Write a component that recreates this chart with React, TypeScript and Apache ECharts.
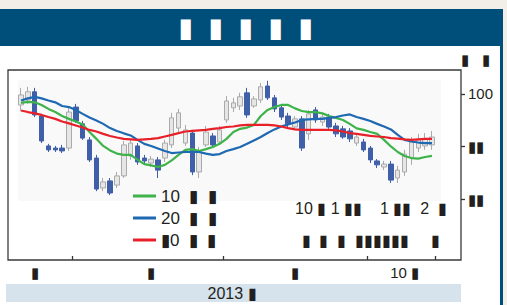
import React, { useEffect, useRef } from 'react';
import * as echarts from 'echarts';

const days = [
  '7/22','7/23','7/24','7/25','7/26','7/29','7/30','7/31',
  '8/1','8/2','8/5','8/6','8/7','8/8','8/9','8/12','8/13','8/14','8/15','8/16','8/19','8/20','8/21','8/22','8/23','8/26','8/27','8/28','8/29','8/30',
  '9/2','9/3','9/4','9/5','9/6','9/9','9/10','9/11','9/12','9/13','9/16','9/17','9/18','9/19','9/20','9/23','9/24','9/25','9/26','9/27','9/30',
  '10/1','10/2','10/3','10/4','10/7','10/8','10/9','10/10','10/11','10/14'
];

const opens = [
  99.58,99.77,100.08,99.16,98.02,97.94,97.94,97.94,99.50,98.86,98.25,97.56,96.42,96.69,96.53,96.88,
  97.64,98.02,97.56,97.37,97.49,97.56,98.06,98.70,98.13,98.51,97.03,98.06,98.40,98.17,
  99.01,99.47,99.54,100.04,99.54,99.77,100.30,99.85,99.47,99.16,98.74,99.05,98.48,99.39,98.93,99.12,
  98.78,98.67,98.59,98.13,98.17,97.94,97.45,97.22,97.33,96.80,97.03,97.56,97.94,98.02,98.06
];
const closes = [
  99.96,100.08,99.20,98.21,97.87,97.87,97.83,99.31,98.97,98.32,97.49,96.38,96.65,96.23,96.88,98.06,
  98.13,97.41,97.45,97.52,97.10,98.13,99.09,99.28,98.63,97.03,97.79,98.55,98.06,98.63,
  99.73,99.66,99.89,99.20,99.81,100.27,99.85,99.43,99.12,98.86,99.05,97.94,99.24,99.01,99.12,98.74,
  98.48,98.36,98.29,98.36,97.87,97.49,97.30,97.33,96.72,97.10,97.71,98.17,98.25,98.29,98.36
];
const lows = [
  99.35,99.62,99.12,98.13,97.79,97.79,97.75,97.83,98.90,98.25,97.41,96.30,96.30,96.15,96.42,96.80,
  97.49,97.30,97.33,97.22,96.80,97.41,97.94,98.51,98.02,96.91,96.80,97.98,97.94,98.10,
  98.90,99.31,99.39,99.09,99.47,99.66,99.77,99.31,99.01,98.74,98.63,97.83,98.25,98.90,98.78,98.67,
  98.36,98.29,98.17,98.02,97.79,97.37,97.18,97.10,96.61,96.61,96.88,97.30,97.79,97.87,97.87
];
const highs = [
  100.23,100.27,100.23,99.24,98.10,98.02,98.06,99.54,99.62,98.97,98.36,97.68,96.80,96.80,97.03,98.21,
  98.29,98.13,97.68,97.64,97.60,98.25,99.28,99.43,98.82,98.63,97.98,98.78,98.51,98.78,
  99.92,99.85,100.04,100.23,99.92,100.42,100.50,99.96,99.58,99.28,99.16,99.16,99.39,99.50,99.28,99.24,
  98.90,98.78,98.70,98.51,98.29,98.02,97.52,97.45,97.45,97.26,97.87,98.36,98.48,98.51,98.59
];

const ma10 = [
  99.66,99.70,99.68,99.58,99.43,99.31,99.16,99.05,98.95,98.84,98.55,98.29,98.02,97.85,97.73,97.68,
  97.68,97.50,97.33,97.28,97.22,97.30,97.47,97.68,97.87,97.90,97.83,97.90,97.98,98.10,
  98.29,98.55,98.67,98.72,98.82,99.16,99.39,99.50,99.58,99.58,99.45,99.35,99.31,99.31,99.26,99.16,
  99.09,99.01,98.86,98.69,98.63,98.55,98.48,98.25,98.00,97.79,97.64,97.56,97.54,97.60,97.64
];
const ma20 = [
  99.75,99.83,99.89,99.83,99.75,99.68,99.54,99.50,99.39,99.24,99.10,98.99,98.86,98.70,98.59,98.50,
  98.42,98.25,98.10,98.02,97.92,97.83,97.75,97.77,97.79,97.79,97.79,97.73,97.68,97.71,
  97.83,97.90,97.98,98.10,98.23,98.36,98.51,98.65,98.76,98.84,98.91,99.01,99.03,99.05,99.05,99.09,
  99.12,99.18,99.22,99.12,99.05,98.97,98.86,98.76,98.65,98.44,98.25,98.19,98.15,98.13,98.13
];
const maLong = [
  99.37,99.31,99.26,99.20,99.12,99.05,98.95,98.88,98.80,98.72,98.63,98.57,98.48,98.40,98.34,98.29,
  98.27,98.25,98.27,98.29,98.32,98.38,98.44,98.51,98.57,98.59,98.61,98.63,98.67,98.70,
  98.74,98.76,98.80,98.82,98.82,98.82,98.82,98.80,98.76,98.70,98.65,98.63,98.63,98.63,98.63,98.63,
  98.61,98.57,98.51,98.48,98.44,98.40,98.38,98.36,98.32,98.30,98.27,98.25,98.27,98.29,98.29
];

const seriesNames = ['10  ▮  ▮', '20  ▮  ▮', '▮0  ▮  ▮'];
const monthTickIdx = [8, 30, 51];
const monthLabelIdx = [2, 19, 40, 56];
const monthLabels = ['▮', '▮', '▮', '10 ▮'];
const yTicks = [96, 98, 100];
const yTickLabels = ['▮▮', '▮▮', '100'];
const titleChars = ['▮', '▮', '▮', '▮', '▮'];
const unitText = '▮   ▮';
const noteLine1 = '10 ▮ 1 ▮▮    1 ▮▮  2  ▮';
const noteLine2 = '▮  ▮  ▮  ▮▮▮▮▮▮     ▮';
const yearText = '2013 ▮';

const FONT = 'Liberation Sans, Arial, sans-serif';
const INK = '#231f20';

export default function App() {
  const ref = useRef<HTMLDivElement>(null);
  useEffect(() => {
    document.body.style.margin = '0';
    const chart = echarts.init(ref.current!, undefined, { renderer: 'svg' });
    const candles = days.map((_, i) => [opens[i], closes[i], lows[i], highs[i]]);
    chart.setOption({
      animation: false,
      backgroundColor: '#f2efe9',
      grid: { left: 17.6, right: 507 - 435.4, top: 70, bottom: 305 - 260, containLabel: false },
      xAxis: {
        type: 'category',
        data: days,
        boundaryGap: true,
        axisLine: { show: false },
        axisTick: {
          show: true, inside: true, length: 4,
          interval: (i: number) => monthTickIdx.includes(i),
          lineStyle: { color: '#333', width: 1.3 },
        },
        axisLabel: {
          interval: (i: number) => monthLabelIdx.includes(i),
          formatter: (_v: string, i: number) => {
            const k = monthLabelIdx.indexOf(i);
            return k >= 0 ? monthLabels[k] : '';
          },
          margin: 5, fontSize: 15, color: INK, fontFamily: FONT,
        },
        splitLine: { show: false },
      },
      yAxis: {
        type: 'value',
        position: 'right',
        offset: 461 - 435.4,
        min: 93.68,
        max: 100.91,
        scale: true,
        axisLine: { show: false },
        axisTick: { show: true, length: 4, customValues: yTicks, lineStyle: { color: '#333', width: 1.3 } },
        axisLabel: {
          customValues: yTicks,
          formatter: (v: number) => {
            const k = yTicks.indexOf(Math.round(v));
            return k >= 0 ? yTickLabels[k] : '';
          },
          margin: 7, fontSize: 15, color: INK, fontFamily: FONT,
        },
        splitLine: { show: false },
      },
      legend: {
        orient: 'vertical',
        left: 128, top: 181,
        itemWidth: 23, itemHeight: 3, itemGap: 2,
        icon: 'rect',
        data: seriesNames,
        textStyle: { fontSize: 17, lineHeight: 20, color: INK, fontFamily: FONT },
      },
      graphic: [
        { type: 'rect', z: -10, shape: { x: 0, y: 9, width: 503, height: 37 }, style: { fill: '#004e7a' } },
        { type: 'rect', z: -10, shape: { x: 0, y: 46, width: 500, height: 259 }, style: { fill: '#ffffff' } },
        { type: 'rect', z: -10, shape: { x: 500, y: 46, width: 3, height: 259 }, style: { fill: '#004e7a' } },
        { type: 'rect', z: -9, shape: { x: 18, y: 80, width: 423, height: 121 }, style: { fill: '#f9f9f9' } },
        { type: 'rect', z: -9, shape: { x: 6, y: 284, width: 455, height: 18 }, style: { fill: '#d6e2ec' } },
        { type: 'rect', z: 5, shape: { x: 8, y: 70, width: 453, height: 190 }, style: { fill: 'none', stroke: '#3a3a3a', lineWidth: 1.3 } },
        {
          type: 'text', z: 10, x: 246, y: 27,
          style: {
            text: titleChars.map((c) => `{t|${c}}`).join(''),
            align: 'center', verticalAlign: 'middle',
            rich: { t: { width: 30, align: 'center', fontSize: 27, fill: '#ffffff', fontFamily: 'DejaVu Sans' } },
          },
        },
        { type: 'text', z: 10, x: 475.5, y: 59, style: { text: unitText, fill: INK, fontSize: 15, fontFamily: FONT, align: 'center', verticalAlign: 'middle' } },
        { type: 'text', z: 10, x: 371, y: 208, style: { text: noteLine1, fill: INK, fontSize: 16, fontFamily: FONT, align: 'center', verticalAlign: 'middle' } },
        { type: 'text', z: 10, x: 371, y: 240, style: { text: noteLine2, fill: INK, fontSize: 16, fontFamily: FONT, align: 'center', verticalAlign: 'middle' } },
        { type: 'text', z: 10, x: 232, y: 293, style: { text: yearText, fill: INK, fontSize: 16, fontFamily: FONT, align: 'center', verticalAlign: 'middle' } },
      ],
      series: [
        {
          type: 'candlestick',
          data: candles,
          barWidth: 5,
          itemStyle: { color: '#e6e6e6', color0: '#3f5fa8', borderColor: '#aaaaaa', borderColor0: '#3f5fa8', borderWidth: 1 },
        },
        { name: seriesNames[0], type: 'line', data: ma10, symbol: 'none', lineStyle: { color: '#3db34a', width: 2.2 }, itemStyle: { color: '#3db34a' } },
        { name: seriesNames[1], type: 'line', data: ma20, symbol: 'none', lineStyle: { color: '#1f69b3', width: 2.2 }, itemStyle: { color: '#1f69b3' } },
        { name: seriesNames[2], type: 'line', data: maLong, symbol: 'none', lineStyle: { color: '#e8202a', width: 2.2 }, itemStyle: { color: '#e8202a' } },
      ],
    });
    return () => chart.dispose();
  }, []);
  return <div ref={ref} style={{ position: 'fixed', left: 0, top: 0, width: 507, height: 305 }} />;
}
